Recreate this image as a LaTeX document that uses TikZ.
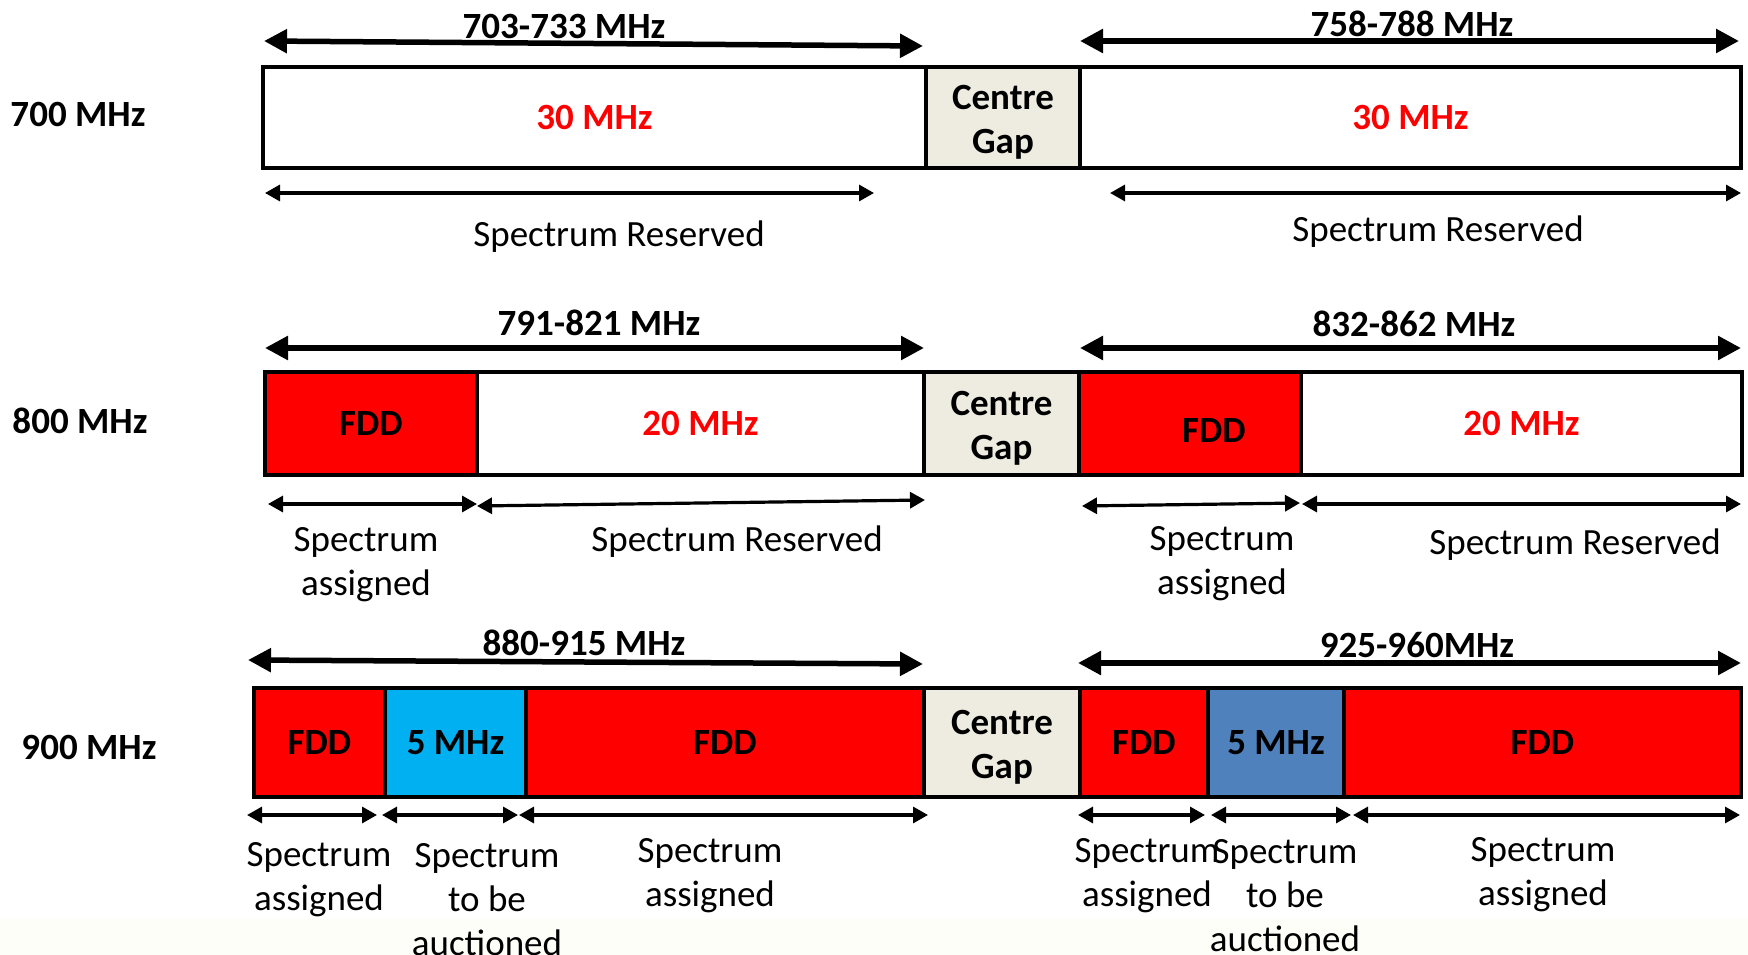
\documentclass[tikz,border=0pt]{standalone}
\usepackage{fontspec}
\setmainfont{Carlito}
\usepackage{xcolor}
\usetikzlibrary{arrows.meta, positioning}
\definecolor{fddred}{RGB}{255,0,0}
\definecolor{auctioncyan}{RGB}{0,176,240}
\definecolor{auctionblue}{RGB}{79,129,189}
\definecolor{gapgrey}{RGB}{238,236,225}
\definecolor{foottint}{RGB}{254,254,249}
\newcommand{\bandfont}{\fontsize{37}{44}\selectfont}

\tikzset{
  seg/.style={draw=black, line width=4pt, inner sep=0pt, font=\bandfont\bfseries},
  bigarrow/.style={line width=5.5pt, {Triangle[length=23pt,width=23pt]}-{Triangle[length=23pt,width=23pt]}},
  smallarrow/.style={line width=3.2pt, {Triangle[length=15pt,width=16pt]}-{Triangle[length=15pt,width=16pt]}},
  bandname/.style={font=\bandfont\bfseries, inner sep=0pt, align=center},
  note/.style={font=\bandfont, align=center, inner sep=0pt}
}

\begin{document}
\begin{tikzpicture}[x=1pt, y=-1pt, font=\bandfont]
  \useasboundingbox (0,0) rectangle (1748,955);
  \fill[foottint] (0,919) rectangle (1748,955);

  % 700 MHz band
  \node[bandname] (b700) at (78,114) {700 MHz};
  \node[seg, minimum width=663pt, minimum height=101pt, text=fddred] (res7a) at (594.5,117.5) {30 MHz};
  \node[seg, fill=gapgrey, minimum width=154pt, minimum height=101pt] (gap7) at (1003,117.5) {};
  \node[bandname] (g7) at (1003,122) {Centre\\Gap};
  \node[seg, minimum width=661pt, minimum height=101pt, text=fddred] (res7b) at (1410.5,117.5) {30 MHz};
  \node[bandname] (f7a) at (564,26) {703-733 MHz};
  \node[bandname] (f7b) at (1412,24) {758-788 MHz};
  \node[note] (n7a) at (619,237) {Spectrum Reserved};
  \node[note] (n7b) at (1438,232) {Spectrum Reserved};

  % 800 MHz band
  \node[bandname] (b800) at (80,421) {800 MHz};
  \node[seg, fill=fddred, minimum width=212pt, minimum height=103pt] (fdd8a) at (371,423.5) {FDD};
  \node[seg, minimum width=447pt, minimum height=103pt, text=fddred] (res8a) at (700.5,423.5) {20 MHz};
  \node[seg, fill=gapgrey, minimum width=155pt, minimum height=103pt] (gap8) at (1001.5,423.5) {};
  \node[bandname] (g8) at (1001.5,428) {Centre\\Gap};
  \node[seg, fill=fddred, minimum width=222pt, minimum height=103pt] (fdd8b) at (1190,423.5) {};
  \node[bandname] (t8b) at (1214,431) {FDD};
  \node[seg, minimum width=441pt, minimum height=103pt, text=fddred] (res8b) at (1521.5,423.5) {20 MHz};
  \node[bandname] (f8a) at (599,323) {791-821 MHz};
  \node[bandname] (f8b) at (1414,324) {832-862 MHz};
  \node[note] (n8a) at (366,565) {Spectrum\\assigned};
  \node[note] (n8b) at (737,542) {Spectrum Reserved};
  \node[note] (n8c) at (1222,564) {Spectrum\\assigned};
  \node[note] (n8d) at (1575,545) {Spectrum Reserved};

  % 900 MHz band
  \node[bandname] (b900) at (89,747) {900 MHz};
  \node[seg, fill=fddred, minimum width=131pt, minimum height=109pt] (fdd9a) at (319.5,742.5) {FDD};
  \node[seg, fill=auctioncyan, minimum width=141pt, minimum height=109pt] (auc9a) at (455.5,742.5) {5 MHz};
  \node[seg, fill=fddred, minimum width=398pt, minimum height=109pt] (fdd9b) at (725,742.5) {FDD};
  \node[seg, fill=gapgrey, minimum width=156pt, minimum height=109pt] (gap9) at (1002,742.5) {};
  \node[bandname] (g9) at (1002,747) {Centre\\Gap};
  \node[seg, fill=fddred, minimum width=128pt, minimum height=109pt] (fdd9c) at (1144,742.5) {FDD};
  \node[seg, fill=auctionblue, minimum width=136pt, minimum height=109pt] (auc9b) at (1276,742.5) {5 MHz};
  \node[seg, fill=fddred, minimum width=397pt, minimum height=109pt] (fdd9d) at (1542.5,742.5) {FDD};
  \node[bandname] (f9a) at (584,643) {880-915 MHz};
  \node[bandname] (f9b) at (1417,645) {925-960MHz};
  \node[note] (n9a) at (319,880) {Spectrum\\assigned};
  \node[note] (n9b) at (487,900) {Spectrum\\to be\\auctioned};
  \node[note] (n9c) at (710,876) {Spectrum\\assigned};
  \node[note] (n9d) at (1147,876) {Spectrum\\assigned};
  \node[note] (n9e) at (1285,896) {Spectrum\\to be\\auctioned};
  \node[note] (n9f) at (1543,875) {Spectrum\\assigned};

  % band width arrows
  \foreach \tag/\xa/\ya/\xb/\yb in {t7a/264/41/923/46, t7b/1080/41/1739/41,
      t8a/265/348/924/348, t8b/1080/348/1741/348,
      t9a/248/660/923/664, t9b/1078/663/1741/663}{
    \coordinate (\tag l) at (\xa,\ya);
    \coordinate (\tag r) at (\xb,\yb);
    \draw[bigarrow] (\tag l) -- (\tag r);
  }
  % sub-band arrows
  \foreach \tag/\xa/\ya/\xb/\yb in {s7a/265/193/874/193, s7b/1110/193/1741/193,
      s8a/268/504/477/504, s8b/477/506/925/500, s8c/1082/506/1300/503, s8d/1302/504/1741/504,
      s9a/247/815/377/815, s9b/382/815/518/815, s9c/519/815/928/815,
      s9d/1078/815/1205/815, s9e/1211/815/1351/815, s9f/1353/815/1740/815}{
    \coordinate (\tag l) at (\xa,\ya);
    \coordinate (\tag r) at (\xb,\yb);
    \draw[smallarrow] (\tag l) -- (\tag r);
  }
\end{tikzpicture}
\end{document}
